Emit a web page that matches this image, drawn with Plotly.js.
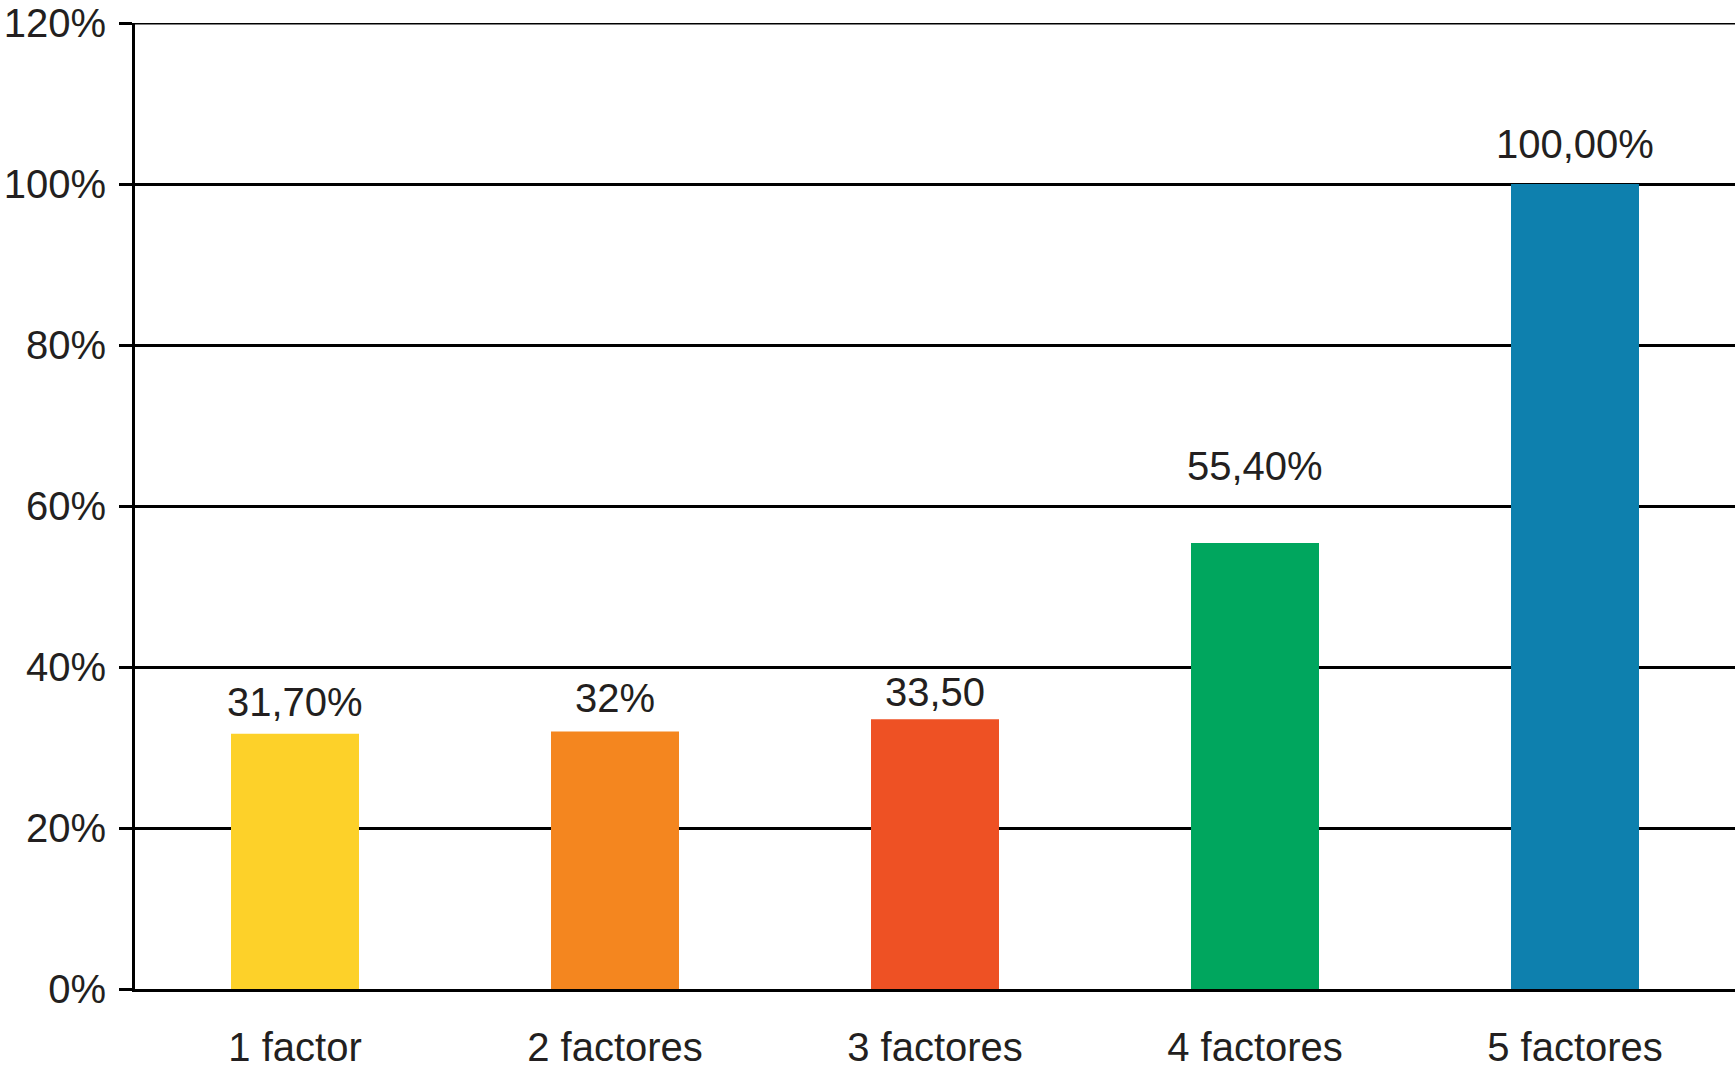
<!DOCTYPE html>
<html>
<head>
<meta charset="utf-8">
<script src="https://cdn.plot.ly/plotly-3.0.1.min.js"></script>
<style>html,body{margin:0;padding:0;background:#fff;}#chart{width:1735px;height:1080px;}</style>
</head>
<body>
<div id="chart"></div>
<script>
const categories = ['1 factor', '2 factores', '3 factores', '4 factores', '5 factores'];
const values = [31.7, 32, 33.5, 55.4, 100];
const valueLabels = ['31,70%', '32%', '33,50', '55,40%', '100,00%'];
const barColors = ['#FDD129', '#F4861F', '#EE5124', '#00A65E', '#0E80AE'];
const yTickVals = [0, 20, 40, 60, 80, 100, 120];
const yTickText = ['0%', '20%', '40%', '60%', '80%', '100%', '120%'];

const labelLift = [8, 9, 3, 53, 16];
const ink = '#231f20';
const font = {family: '"Liberation Sans", Arial, Helvetica, sans-serif', size: 40, color: ink};
const yMax = yTickVals[yTickVals.length - 1];

const trace = {
  type: 'bar',
  x: categories,
  y: values,
  marker: {color: barColors, line: {width: 0}},
  hoverinfo: 'none'
};

const annotations = categories.map((c, i) => ({
  x: c, y: values[i], xref: 'x', yref: 'y',
  text: valueLabels[i], showarrow: false,
  yanchor: 'bottom', xanchor: 'center',
  yshift: labelLift[i],
  font: font
}));

const layout = {
  width: 1735, height: 1080,
  margin: {l: 135, r: 0, t: 23, b: 91},
  paper_bgcolor: '#fff', plot_bgcolor: '#fff',
  font: font,
  showlegend: false,
  bargap: 0.6,
  xaxis: {
    type: 'category',
    showgrid: false, zeroline: false,
    showline: true, linecolor: '#000', linewidth: 3,
    ticks: '', tickfont: font,
    ticklabelstandoff: 21
  },
  yaxis: {
    range: [0, yMax], fixedrange: true,
    tickvals: yTickVals, ticktext: yTickText,
    showgrid: true, gridcolor: '#000', gridwidth: 3,
    zeroline: false,
    showline: true, linecolor: '#000', linewidth: 3,
    ticks: 'outside', ticklen: 13, tickwidth: 3, tickcolor: '#000',
    tickfont: font,
    ticklabelstandoff: 5,
    ticklabeloverflow: 'allow'
  },
  shapes: [{
    type: 'line', xref: 'paper', yref: 'y',
    x0: 0, x1: 1, y0: yMax, y1: yMax,
    line: {color: '#000', width: 3}
  }],
  annotations: annotations
};

Plotly.newPlot('chart', [trace], layout, {displayModeBar: false, staticPlot: true});
</script>
</body>
</html>
